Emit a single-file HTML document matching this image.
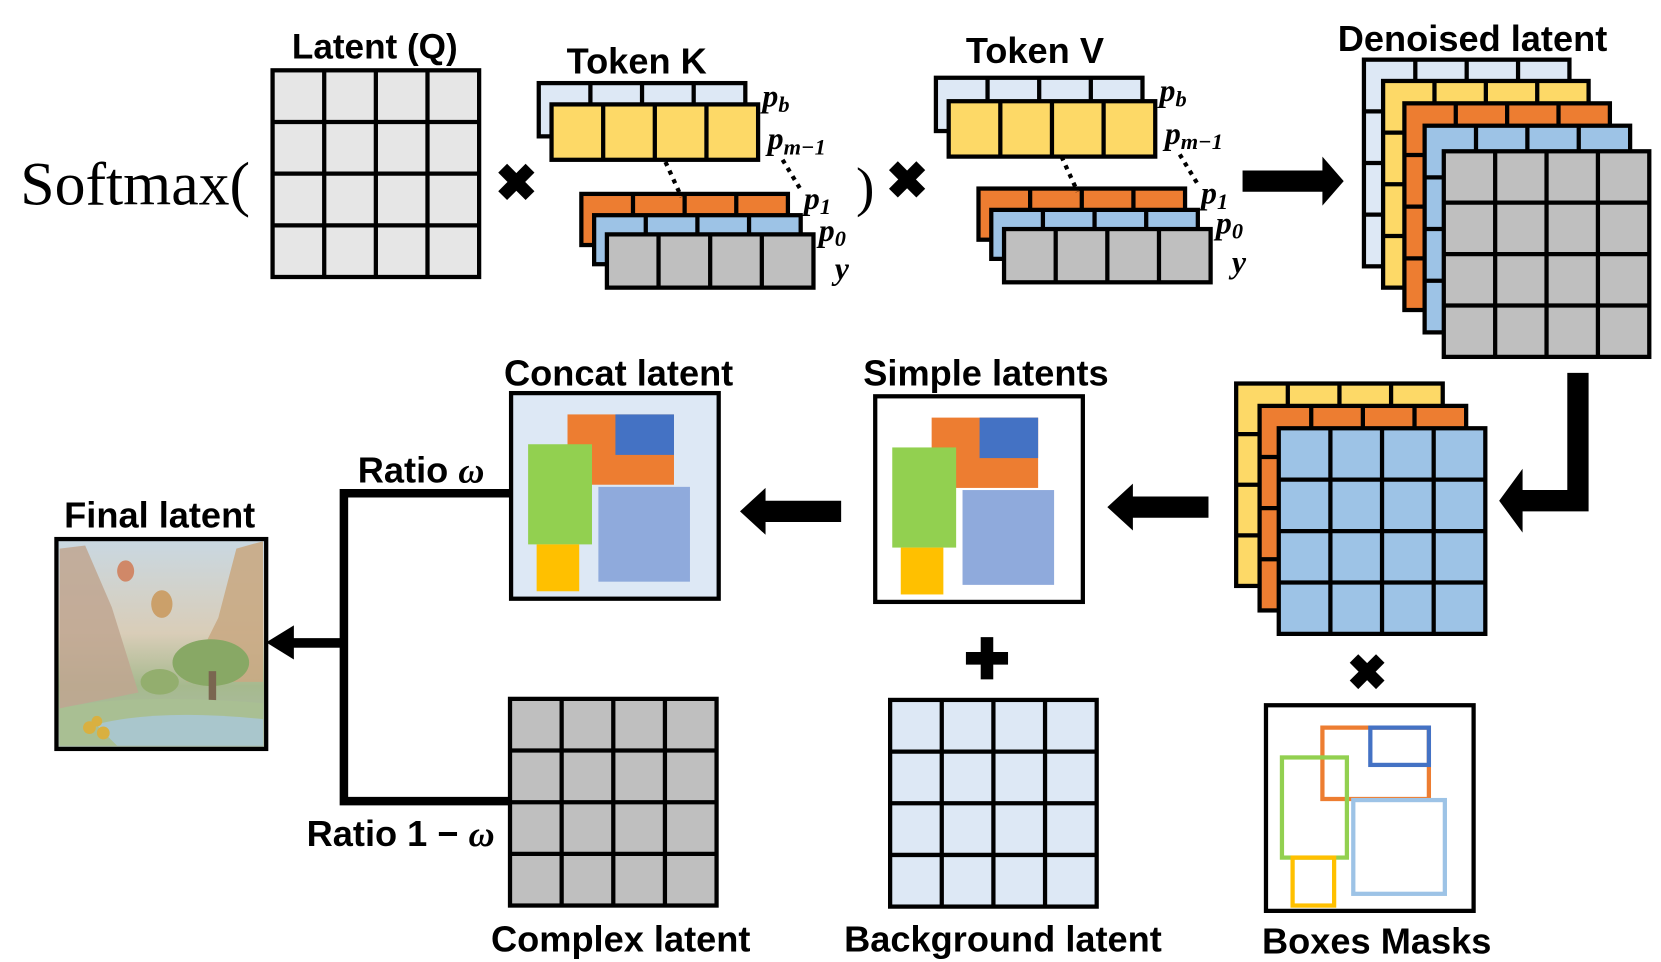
<!DOCTYPE html>
<html><head><meta charset="utf-8"><style>
html,body{margin:0;padding:0;background:#fff;}
svg{display:block;}
text{font-family:"Liberation Sans",sans-serif;font-weight:bold;fill:#000;}
.m{font-family:"Liberation Serif",serif;font-style:italic;font-weight:bold;}
</style></head><body>
<svg id="s" width="1661" height="962" viewBox="0 0 1560 903" preserveAspectRatio="none" xmlns="http://www.w3.org/2000/svg">
<g id="g"></g>
<text x="352" y="55" font-size="33" text-anchor="middle">Latent (Q)</text>
<text x="19" y="192" font-size="58" style="font-family:'Liberation Serif',serif;font-weight:normal">Softmax(</text>
<text x="485" y="188" font-size="48" text-anchor="middle">✖</text>
<text x="598" y="69" font-size="34" text-anchor="middle">Token K</text>
<text x="804" y="193" font-size="52" style="font-family:'Liberation Serif',serif;font-weight:normal">)</text>
<text x="852" y="186" font-size="48" text-anchor="middle">✖</text>
<text x="972" y="59" font-size="34" text-anchor="middle">Token V</text>
<text x="1383" y="48" font-size="34" text-anchor="middle">Denoised latent</text>

<text class="m" x="716" y="100" font-size="30">p<tspan font-size="21" dy="5">b</tspan></text>
<text class="m" x="721" y="140" font-size="30">p<tspan font-size="21" dy="5">m−1</tspan></text>
<text class="m" x="755" y="196" font-size="30">p<tspan font-size="21" dy="5">1</tspan></text>
<text class="m" x="769" y="226" font-size="30">p<tspan font-size="21" dy="5">0</tspan></text>
<text class="m" x="784" y="262" font-size="30">y</text>
<text class="m" x="1089" y="95" font-size="30">p<tspan font-size="21" dy="5">b</tspan></text>
<text class="m" x="1094" y="135" font-size="30">p<tspan font-size="21" dy="5">m−1</tspan></text>
<text class="m" x="1128" y="191" font-size="30">p<tspan font-size="21" dy="5">1</tspan></text>
<text class="m" x="1142" y="219" font-size="30">p<tspan font-size="21" dy="5">0</tspan></text>
<text class="m" x="1157" y="256" font-size="30">y</text>

<text x="581" y="362" font-size="34" text-anchor="middle">Concat latent</text>
<text x="926" y="362" font-size="34" text-anchor="middle">Simple latents</text>
<text x="150" y="495" font-size="34" text-anchor="middle">Final latent</text>
<text x="336" y="453" font-size="34">Ratio <tspan class="m">ω</tspan></text>
<text x="288" y="794" font-size="34">Ratio 1 − <tspan class="m">ω</tspan></text>
<text x="583" y="893" font-size="34" text-anchor="middle">Complex latent</text>
<text x="942" y="893" font-size="34" text-anchor="middle">Background latent</text>
<text x="1293" y="895" font-size="34" text-anchor="middle">Boxes Masks</text>
<text x="927" y="637" font-size="52" text-anchor="middle">✚</text>
<text x="1284" y="647" font-size="46" text-anchor="middle">✖</text>
</svg>
<script>
var g=document.getElementById('g'),NS='http://www.w3.org/2000/svg';
function el(t,a){var e=document.createElementNS(NS,t);for(var k in a)e.setAttribute(k,a[k]);g.appendChild(e);return e;}
function grid(x,y,w,h,c,r,f,sw){el('rect',{x:x,y:y,width:w,height:h,fill:f,stroke:'#000','stroke-width':sw||4});
for(var i=1;i<c;i++)el('line',{x1:x+w*i/c,y1:y,x2:x+w*i/c,y2:y+h,stroke:'#000','stroke-width':sw||4});
for(var j=1;j<r;j++)el('line',{x1:x,y1:y+h*j/r,x2:x+w,y2:y+h*j/r,stroke:'#000','stroke-width':sw||4});}
var LB='#dde8f5',Y='#fdd967',O='#ed7d31',B='#9dc3e6',G='#bfbfbf',Q='#e6e6e6';
grid(256,66,194,194,4,4,Q);
grid(506,78,194,50,4,1,LB);grid(518,98,194,52,4,1,Y);
grid(546,182,194,48,4,1,O);grid(558,202,194,46,4,1,B);grid(570,220,194,50,4,1,G);
grid(879,73,194,50,4,1,LB);grid(891,95,194,52,4,1,Y);
grid(919,177,194,48,4,1,O);grid(931,197,194,46,4,1,B);grid(943,215,194,50,4,1,G);
[[625,152,640,185],[735,150,752,178],[997,147,1012,180],[1108,145,1125,173]].forEach(function(d){el('line',{x1:d[0],y1:d[1],x2:d[2],y2:d[3],stroke:'#000','stroke-width':4,'stroke-dasharray':'4 5'});});
grid(1281,56,193,194,4,4,LB);grid(1299,76,193,194,4,4,Y);grid(1319,97,193,194,4,4,O);grid(1338,118,193,194,4,4,B);grid(1356,142,193,193,4,4,G);
el('polygon',{points:'1167,160 1242,160 1242,147 1262,170 1242,193 1242,180 1167,180',fill:'#000'});
el('polygon',{points:'1472,350 1492,350 1492,480 1430,480 1430,500 1408,470 1430,440 1430,460 1472,460',fill:'#000'});
grid(1161,360,194,190,4,4,Y);grid(1183,381,194,192,4,4,O);grid(1201,402,194,193,4,4,B);
el('rect',{x:1189,y:662,width:195,height:193,fill:'#fff',stroke:'#000','stroke-width':4});
el('rect',{x:1242,y:683,width:100,height:67,fill:'none',stroke:O,'stroke-width':4});
el('rect',{x:1287,y:683,width:55,height:35,fill:'none',stroke:'#4472c4','stroke-width':4});
el('rect',{x:1204,y:711,width:61,height:94,fill:'none',stroke:'#92d050','stroke-width':4});
el('rect',{x:1271,y:751,width:86,height:88,fill:'none',stroke:B,'stroke-width':4});
el('rect',{x:1214,y:805,width:39,height:45,fill:'none',stroke:'#ffc000','stroke-width':4});
function la(x1,x2,y){el('polygon',{points:x1+','+(y-10)+' '+(x2+24)+','+(y-10)+' '+(x2+24)+','+(y-22)+' '+x2+','+y+' '+(x2+24)+','+(y+22)+' '+(x2+24)+','+(y+10)+' '+x1+','+(y+10),fill:'#000'});}
la(1135,1040,476);la(790,695,480);
function comp(x,y,bg){el('rect',{x:x,y:y,width:195,height:193,fill:bg,stroke:'#000','stroke-width':4});
el('rect',{x:x+53,y:y+20,width:100,height:66,fill:O});el('rect',{x:x+98,y:y+20,width:55,height:38,fill:'#4472c4'});
el('rect',{x:x+16,y:y+48,width:60,height:94,fill:'#92d050'});el('rect',{x:x+82,y:y+88,width:86,height:89,fill:'#8faadc'});
el('rect',{x:x+24,y:y+142,width:40,height:44,fill:'#ffc000'});}
comp(822,372,'#fff');comp(480,369,LB);
grid(836,657,194,194,4,4,LB);grid(479,656,194,194,4,4,G);
el('polyline',{points:'480,463 323,463 323,752 478,752',fill:'none',stroke:'#000','stroke-width':8});
el('rect',{x:272,y:599,width:51,height:9,fill:'#000'});
el('polygon',{points:'250,603 276,587 276,619',fill:'#000'});
var d=el('defs',{});d.innerHTML='<linearGradient id="sky" x1="0" y1="0" x2="0" y2="1"><stop offset="0" stop-color="#c9d8e2"/><stop offset="0.45" stop-color="#d9cdb8"/><stop offset="0.7" stop-color="#a6b98e"/><stop offset="1" stop-color="#aebfae"/></linearGradient>';
el('rect',{x:53,y:506,width:197,height:197,fill:'url(#sky)',stroke:'#000','stroke-width':4});
el('polygon',{points:'56,515 80,512 105,570 130,650 56,665',fill:'#bfa690',opacity:0.85});
el('polygon',{points:'247,508 222,515 205,580 175,640 247,640',fill:'#c9aa84',opacity:0.9});
el('ellipse',{cx:198,cy:622,rx:36,ry:22,fill:'#88a865'});el('ellipse',{cx:150,cy:640,rx:18,ry:12,fill:'#93ae6e'});
el('rect',{x:196,y:630,width:7,height:30,fill:'#7a6650'});
el('path',{d:'M56,665 Q120,650 247,660 L247,700 L56,700 Z',fill:'#a9bf93'});
el('path',{d:'M90,680 Q150,665 247,675 L247,700 L110,700 Z',fill:'#a9c6cc'});
el('ellipse',{cx:118,cy:536,rx:8,ry:10,fill:'#d08868'});el('ellipse',{cx:152,cy:567,rx:10,ry:13,fill:'#cba06a'});
el('circle',{cx:84,cy:683,r:6,fill:'#d9b040'});el('circle',{cx:97,cy:688,r:6,fill:'#d9b040'});el('circle',{cx:91,cy:677,r:5,fill:'#d9b040'});
</script>
</body></html>
